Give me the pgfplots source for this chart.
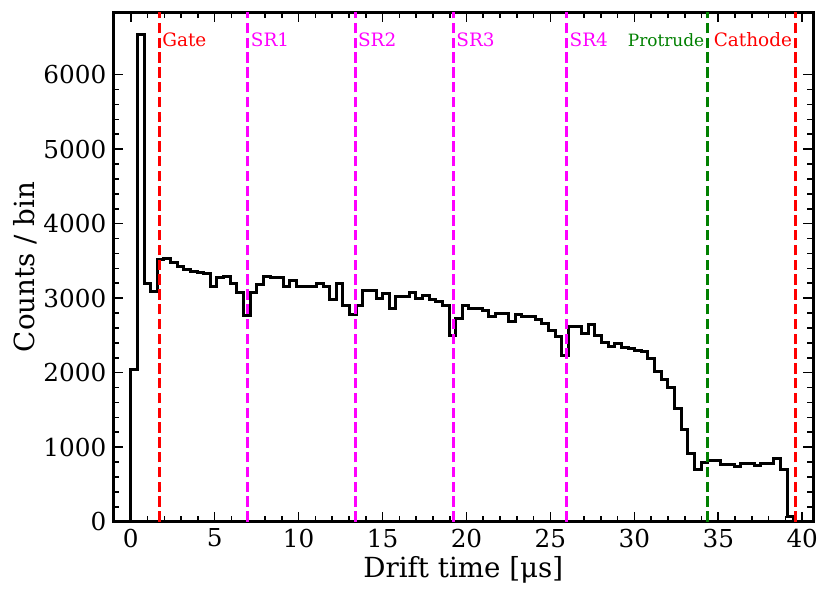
\documentclass[border=0pt]{standalone}
\usepackage{fontspec}
\setmainfont{DejaVu Serif}
\usepackage{pgfplots}
\pgfplotsset{compat=1.18}
\usepackage{pgfplotstable}

% histogram of drift times, left bin edges (bin width 0.395 us)
\pgfplotstableread{
x y
0 0
0 2040
0.395 6540
0.79 3200
1.185 3090
1.58 3512
1.975 3535
2.37 3481
2.765 3423
3.16 3380
3.555 3356
3.95 3340
4.345 3333
4.74 3163
5.135 3275
5.53 3288
5.925 3199
6.32 3074
6.715 2761
7.11 3074
7.505 3177
7.9 3288
8.295 3275
8.69 3275
9.085 3154
9.48 3235
9.875 3163
10.27 3163
10.665 3154
11.06 3199
11.455 3154
11.85 2985
12.245 3199
12.64 2900
13.035 2775
13.43 2895
13.825 3109
14.22 3109
14.615 2998
15.01 3056
15.405 2863
15.8 3020
16.195 3020
16.59 3074
16.985 2998
17.38 3029
17.775 2980
18.17 2953
18.565 2895
18.96 2505
19.355 2730
19.75 2895
20.145 2863
20.54 2863
20.935 2840
21.33 2752
21.725 2796
22.12 2796
22.515 2684
22.91 2774
23.305 2752
23.7 2752
24.095 2707
24.49 2662
24.885 2572
25.28 2483
25.675 2237
26.07 2626
26.465 2626
26.86 2519
27.255 2640
27.65 2505
28.045 2402
28.44 2349
28.835 2393
29.23 2340
29.625 2327
30.02 2304
30.415 2282
30.81 2192
31.205 2013
31.6 1902
31.995 1804
32.39 1522
32.785 1231
33.18 909
33.575 703
33.97 792
34.365 819
34.76 819
35.155 770
35.55 770
35.945 747
36.34 783
36.735 783
37.13 756
37.525 783
37.92 783
38.315 850
38.71 694
39.105 68
39.5 0
}\hist

\definecolor{mplgreen}{RGB}{0,128,0}
\definecolor{mplred}{RGB}{255,0,0}
\definecolor{mplmagenta}{RGB}{255,0,255}

\begin{document}
\begin{tikzpicture}
\begin{axis}[
    scale only axis,
    width=350bp, height=254.7bp,
    xmin=-1.04, xmax=40.66,
    ymin=0, ymax=6836,
    xtick={0,5,...,40},
    ytick={0,1000,...,6000},
    minor x tick num=4,
    minor y tick num=4,
    tick align=inside,
    xtick pos=both, ytick pos=both,
    major tick length=5bp,
    minor tick length=3bp,
    every tick/.style={black, line width=0.8bp},
    axis line style={line width=1.6bp},
    /pgf/number format/assume math mode=true,
    scaled y ticks=false,
    yticklabel style={/pgf/number format/1000 sep={}},
    ticklabel style={font=\fontsize{12.4}{14}\selectfont},
    label style={font=\fontsize{13.9}{16}\selectfont},
    xlabel={Drift time [μs]},
    ylabel={Counts / bin},
    xlabel style={at={(axis description cs:0.5,-0.095)}, anchor=center},
    ylabel style={at={(axis description cs:-0.126,0.5)}, anchor=center},
    clip=false,
    vline/.style={line width=1.5bp, dash pattern=on 5.2bp off 2.2bp},
]
\addplot[const plot, black, line width=1.5bp] table[x=x, y=y] {\hist};

\addplot[mplred, vline] coordinates {(1.7,0) (1.7,6836)};
\addplot[mplmagenta, vline] coordinates {(6.98,0) (6.98,6836)};
\addplot[mplmagenta, vline] coordinates {(13.36,0) (13.36,6836)};
\addplot[mplmagenta, vline] coordinates {(19.22,0) (19.22,6836)};
\addplot[mplmagenta, vline] coordinates {(25.97,0) (25.97,6836)};
\addplot[mplgreen, vline] coordinates {(34.34,0) (34.34,6836)};
\addplot[mplred, vline] coordinates {(39.57,0) (39.57,6836)};

\begin{scope}[every node/.style={inner sep=0pt, font=\fontsize{9.25}{11}\selectfont}]
\node[mplred, anchor=west, xshift=1.3bp] at (axis cs:1.7,6464) {Gate};
\node[mplmagenta, anchor=west, xshift=1.3bp] at (axis cs:6.98,6464) {SR1};
\node[mplmagenta, anchor=west, xshift=1.3bp] at (axis cs:13.36,6464) {SR2};
\node[mplmagenta, anchor=west, xshift=1.3bp] at (axis cs:19.22,6464) {SR3};
\node[mplmagenta, anchor=west, xshift=1.3bp] at (axis cs:25.97,6464) {SR4};
\node[mplgreen, anchor=east, xshift=-1.3bp, font=\fontsize{8.5}{10}\selectfont] at (axis cs:34.34,6464) {Protrude};
\node[mplred, anchor=east, xshift=-1.3bp] at (axis cs:39.57,6464) {Cathode};
\end{scope}
\end{axis}
\path[use as bounding box] ([shift={(-56.65bp,-37.65bp)}]current axis.south west) rectangle ([shift={(8.85bp,6.15bp)}]current axis.north east);
\end{tikzpicture}
\end{document}
